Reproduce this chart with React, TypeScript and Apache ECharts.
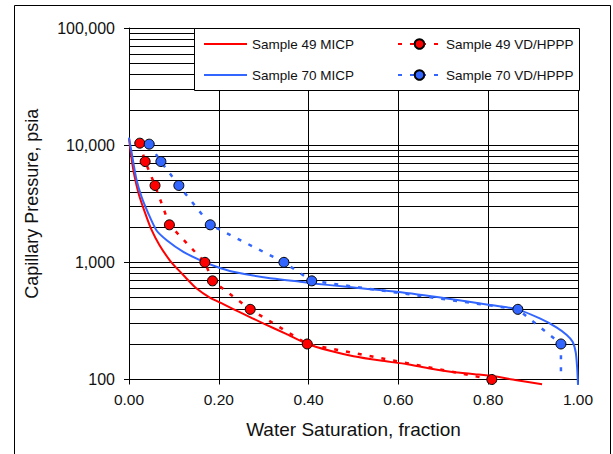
import React, { useEffect, useRef } from "react";
import * as echarts from "echarts";

// Sample 49 MICP (solid red)
const s49MicpSw = [0, 0.005, 0.012, 0.022, 0.035, 0.05, 0.068, 0.09, 0.105, 0.125, 0.15, 0.18, 0.21, 0.25, 0.3, 0.35, 0.397, 0.45, 0.5, 0.56, 0.62, 0.67, 0.72, 0.77, 0.81, 0.86, 0.92];
const s49MicpPc = [11400, 8000, 5500, 3800, 2700, 1900, 1400, 1050, 900, 750, 600, 500, 440, 370, 300, 245, 201, 175, 158, 145, 135, 124, 116, 111, 107, 99, 91];

// Sample 70 MICP (solid blue)
const s70MicpSw = [0, 0.005, 0.01, 0.017, 0.028, 0.043, 0.061, 0.084, 0.121, 0.158, 0.195, 0.232, 0.307, 0.381, 0.41, 0.485, 0.596, 0.708, 0.8, 0.865, 0.915, 0.952, 0.975, 0.988, 0.995, 0.998, 1.0];
const s70MicpPc = [11600, 9000, 6970, 5020, 3615, 2612, 1880, 1546, 1230, 1045, 916, 830, 738, 682, 661, 618, 561, 492, 435, 397, 332, 279, 240, 210, 170, 128, 90];

// Sample 49 VD/HPPP (red dashed with markers)
const s49VdSw = [0.024, 0.036, 0.058, 0.09, 0.169, 0.186, 0.27, 0.397, 0.808];
const s49VdPc = [10400, 7250, 4530, 2090, 1000, 695, 397, 201, 100];

// Sample 70 VD/HPPP (blue dashed with markers); last point has no marker
const s70VdSw = [0.045, 0.071, 0.111, 0.181, 0.345, 0.407, 0.866, 0.962, 0.962];
const s70VdPc = [10200, 7250, 4530, 2090, 1000, 695, 397, 201, 100];
const s70VdMarker = [true, true, true, true, true, true, true, true, false];

// Minor horizontal grid lines (log decades)
const minorGrid = [200, 300, 400, 500, 600, 700, 800, 900, 2000, 3000, 4000, 5000, 6000, 7000, 8000, 9000, 20000, 30000, 40000, 50000, 60000, 70000, 80000, 90000];

const seriesNames = ["Sample 49 MICP", "Sample 70 MICP", "Sample 49 VD/HPPP", "Sample 70 VD/HPPP"];

const RED = "#FF0000";
const BLUE = "#3366FF";
const FONT = "'Liberation Sans', Arial, sans-serif";

const zip = (xs: number[], ys: number[]) => xs.map((x, i) => [x, ys[i]]);

export default function App() {
  const ref = useRef<HTMLDivElement>(null);
  useEffect(() => {
    if (!ref.current) return;
    const chart = echarts.init(ref.current, undefined, { renderer: "svg" });
    const legendText = { fontSize: 13.5, color: "#111", fontFamily: FONT };
    const option: any = {
      animation: false,
      backgroundColor: "#fff",
      textStyle: { fontFamily: FONT },
      grid: { left: 129, right: 35, top: 28, bottom: 74.5, containLabel: false },
      xAxis: {
        type: "value",
        min: 0,
        max: 1,
        interval: 0.2,
        name: "Water Saturation, fraction",
        nameLocation: "middle",
        nameGap: 40,
        nameTextStyle: { fontSize: 19, color: "#111", fontFamily: FONT },
        axisLine: { show: true, lineStyle: { color: "#000", width: 1 } },
        axisTick: { show: true, length: 5, lineStyle: { color: "#000" } },
        axisLabel: { fontSize: 15.5, color: "#111", margin: 12, fontFamily: FONT, formatter: (v: number) => v.toFixed(2) },
        splitLine: { show: true, lineStyle: { color: "#000", width: 1 } },
      },
      yAxis: {
        type: "log",
        logBase: 10,
        min: 100,
        max: 100000,
        name: "Capillary Pressure, psia",
        nameLocation: "middle",
        nameGap: 88,
        nameRotate: 90,
        nameTextStyle: { fontSize: 18, color: "#111", fontFamily: FONT },
        axisLine: { show: true, lineStyle: { color: "#000", width: 1 } },
        axisTick: { show: true, length: 5, lineStyle: { color: "#000" } },
        axisLabel: { fontSize: 16, color: "#111", margin: 14, fontFamily: FONT, formatter: (v: number) => Math.round(v).toLocaleString("en-US") },
        splitLine: { show: true, lineStyle: { color: "#000", width: 1 } },
      },
      legend: [
        {
          orient: "vertical",
          left: 203,
          top: 37,
          padding: 0,
          z: 20,
          itemWidth: 43,
          itemHeight: 12,
          itemGap: 17,
          data: [
            { name: seriesNames[0], itemStyle: { opacity: 0, color: "transparent", borderWidth: 0 } },
            { name: seriesNames[1], itemStyle: { opacity: 0, color: "transparent", borderWidth: 0 } },
          ],
          textStyle: legendText,
          selectedMode: false,
        },
        {
          orient: "vertical",
          left: 397,
          top: 37,
          padding: 0,
          z: 20,
          itemWidth: 43,
          itemHeight: 12,
          itemGap: 17,
          data: [seriesNames[2], seriesNames[3]],
          textStyle: legendText,
          selectedMode: false,
        },
      ],
      graphic: [
        {
          type: "rect",
          z: 10,
          shape: { x: 194.5, y: 28.5, width: 385, height: 62 },
          style: { fill: "#fff", stroke: "#000", lineWidth: 1 },
          silent: true,
        },
        {
          type: "rect",
          z: 0,
          shape: { x: 14.5, y: 5.5, width: 596, height: 470 },
          style: { fill: "none", stroke: "#000", lineWidth: 1 },
          silent: true,
        },
      ],
      series: [
        {
          name: seriesNames[0],
          type: "line",
          data: zip(s49MicpSw, s49MicpPc),
          showSymbol: false,
          symbol: "none",
          clip: false,
          smooth: 0.2,
          z: 3,
          lineStyle: { color: RED, width: 2 },
          itemStyle: { color: RED },
          markLine: {
            silent: true,
            z: 1,
            symbol: ["none", "none"],
            label: { show: false },
            emphasis: { disabled: true },
            lineStyle: { color: "#000", width: 1, type: "solid" },
            data: minorGrid.map((v) => ({ yAxis: v })),
          },
        },
        {
          name: seriesNames[1],
          type: "line",
          data: zip(s70MicpSw, s70MicpPc),
          showSymbol: false,
          symbol: "none",
          clip: false,
          smooth: 0.2,
          z: 3,
          lineStyle: { color: BLUE, width: 2 },
          itemStyle: { color: BLUE },
        },
        {
          name: seriesNames[2],
          type: "line",
          data: zip(s49VdSw, s49VdPc),
          symbol: "circle",
          symbolSize: 10,
          clip: false,
          z: 4,
          lineStyle: { color: RED, width: 2.5, type: [4, 8] },
          itemStyle: { color: RED, borderColor: "#000", borderWidth: 1 },
        },
        {
          name: seriesNames[3],
          type: "line",
          data: s70VdSw.map((x, i) => ({
            value: [x, s70VdPc[i]],
            symbol: s70VdMarker[i] ? "circle" : "none",
          })),
          symbol: "circle",
          symbolSize: 10,
          clip: false,
          z: 4,
          lineStyle: { color: BLUE, width: 2.5, type: [4, 8] },
          itemStyle: { color: BLUE, borderColor: "#000", borderWidth: 1 },
        },
      ],
    };
    chart.setOption(option);
    return () => chart.dispose();
  }, []);
  return (
    <div
      ref={ref}
      style={{ position: "fixed", left: 0, top: 0, width: 613, height: 454 }}
    />
  );
}
